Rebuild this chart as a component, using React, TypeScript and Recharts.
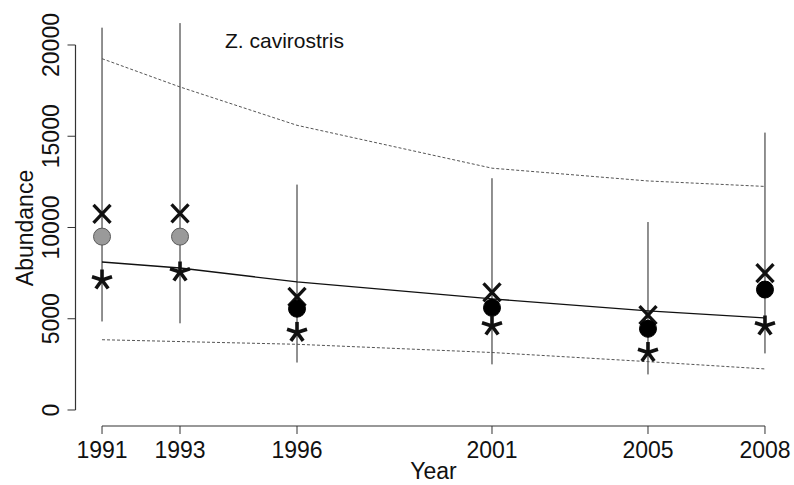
import React from "react";
import {
  ComposedChart,
  Line,
  Scatter,
  XAxis,
  YAxis,
  ReferenceLine,
} from "recharts";

// ---- data ----
const years = [1991, 1993, 1996, 2001, 2005, 2008];
const estimateX = [10750, 10780, 6200, 6450, 5200, 7500];
const estimateCircleGrey: (number | null)[] = [9500, 9500, null, null, null, null];
const estimateCircleBlack: (number | null)[] = [null, null, 5550, 5600, 4450, 6600];
const estimateStar = [7120, 7560, 4250, 4600, 3150, 4600];
const barUpper = [20950, 21200, 12350, 12700, 10300, 15200];
const barLower = [4850, 4750, 2600, 2500, 1950, 3100];
const trend = [8110, 7780, 7020, 6090, 5430, 5040];
const bandUpper = [19250, 17700, 15600, 13250, 12550, 12250];
const bandLower = [3850, 3750, 3600, 3150, 2650, 2250];
const yTicks = [0, 5000, 10000, 15000, 20000];

const X_DOMAIN: [number, number] = [1990.32, 2008.68];
const Y_DOMAIN: [number, number] = [-877, 21808];

const rows = years.map((year, i) => ({
  year,
  xm: estimateX[i],
  cg: estimateCircleGrey[i],
  cb: estimateCircleBlack[i],
  st: estimateStar[i],
  trend: trend[i],
  up: bandUpper[i],
  lo: bandLower[i],
}));

const FONT = "'Liberation Sans', Arial, Helvetica, sans-serif";
const AXIS = "#333";

const XShape = (p: any) => {
  const { cx, cy } = p;
  if (cx == null || cy == null) return null;
  const w = 8.5, h = 9;
  return (
    <g stroke="#111" strokeWidth={3.3} strokeLinecap="butt">
      <line x1={cx - w} y1={cy - h} x2={cx + w} y2={cy + h} />
      <line x1={cx + w} y1={cy - h} x2={cx - w} y2={cy + h} />
    </g>
  );
};

const StarShape = (p: any) => {
  const { cx, cy } = p;
  if (cx == null || cy == null) return null;
  const r = 10.5;
  const angles = [-90, -18, 54, 126, 198];
  return (
    <g stroke="#111" strokeWidth={3.6} strokeLinecap="butt">
      {angles.map((a) => {
        const rad = (a * Math.PI) / 180;
        return (
          <line
            key={a}
            x1={cx}
            y1={cy}
            x2={cx + r * Math.cos(rad)}
            y2={cy + r * Math.sin(rad)}
          />
        );
      })}
    </g>
  );
};

const GreyCircle = (p: any) => {
  const { cx, cy } = p;
  if (cx == null || cy == null) return null;
  return <circle cx={cx} cy={cy} r={8.5} fill="#9a9a9a" stroke="#5a5a5a" strokeWidth={1} />;
};

const BlackCircle = (p: any) => {
  const { cx, cy } = p;
  if (cx == null || cy == null) return null;
  return <circle cx={cx} cy={cy} r={8.5} fill="#000" stroke="#000" strokeWidth={1} />;
};

const XTick = (p: any) => {
  const { x, y, payload } = p;
  return (
    <text x={x} y={y + 22} textAnchor="middle" fontSize={23} fontFamily={FONT} fill="#111">
      {payload.value}
    </text>
  );
};

const YTick = (p: any) => {
  const { x, y, payload } = p;
  const bx = x - 6;
  return (
    <text
      x={bx}
      y={y}
      transform={`rotate(-90 ${bx} ${y})`}
      textAnchor="middle"
      fontSize={23}
      fontFamily={FONT}
      fill="#111"
    >
      {payload.value}
    </text>
  );
};

export default function App() {
  return (
    <div style={{ position: "absolute", left: 0, top: 0, width: 794, height: 485, background: "#fff" }}>
      <ComposedChart
        width={794}
        height={485}
        data={rows}
        margin={{ top: 12, right: 2.5, bottom: 0, left: 0 }}
      >
        <XAxis
          dataKey="year"
          type="number"
          domain={X_DOMAIN}
          ticks={years}
          allowDataOverflow
          axisLine={false}
          tickLine={{ stroke: AXIS, strokeWidth: 1 }}
          tickSize={8}
          tick={<XTick />}
          height={59}
          interval={0}
        />
        <YAxis
          type="number"
          domain={Y_DOMAIN}
          ticks={yTicks}
          allowDataOverflow
          axisLine={false}
          tickLine={{ stroke: AXIS, strokeWidth: 1 }}
          tickSize={8}
          tick={<YTick />}
          width={75.5}
          interval={0}
        />
        {/* R-style axis lines spanning first to last tick */}
        <ReferenceLine
          segment={[{ x: years[0], y: Y_DOMAIN[0] }, { x: years[years.length - 1], y: Y_DOMAIN[0] }]}
          stroke={AXIS}
          strokeWidth={1.2}
          ifOverflow="visible"
        />
        <ReferenceLine
          segment={[{ x: X_DOMAIN[0], y: yTicks[0] }, { x: X_DOMAIN[0], y: yTicks[yTicks.length - 1] }]}
          stroke={AXIS}
          strokeWidth={1.2}
          ifOverflow="visible"
        />
        {years.map((yr, i) => (
          <ReferenceLine
            key={yr}
            segment={[{ x: yr, y: barLower[i] }, { x: yr, y: barUpper[i] }]}
            stroke="#222"
            strokeWidth={1}
            ifOverflow="visible"
          />
        ))}
        <Line dataKey="up" stroke="#555" strokeWidth={1} strokeDasharray="3 2" dot={false} activeDot={false} isAnimationActive={false} />
        <Line dataKey="lo" stroke="#555" strokeWidth={1} strokeDasharray="3 2" dot={false} activeDot={false} isAnimationActive={false} />
        <Line dataKey="trend" stroke="#111" strokeWidth={1.3} dot={false} activeDot={false} isAnimationActive={false} />
        <Scatter dataKey="xm" shape={XShape} isAnimationActive={false} />
        <Scatter dataKey="cg" shape={GreyCircle} isAnimationActive={false} />
        <Scatter dataKey="cb" shape={BlackCircle} isAnimationActive={false} />
        <Scatter dataKey="st" shape={StarShape} isAnimationActive={false} />
        <text x={225} y={48} fontSize={21} fontFamily={FONT} fill="#111">
          Z. cavirostris
        </text>
        <text
          x={33}
          y={228}
          transform="rotate(-90 33 228)"
          textAnchor="middle"
          fontSize={23}
          fontFamily={FONT}
          fill="#111"
        >
          Abundance
        </text>
        <text x={433.5} y={479} textAnchor="middle" fontSize={23} fontFamily={FONT} fill="#111">
          Year
        </text>
      </ComposedChart>
    </div>
  );
}
